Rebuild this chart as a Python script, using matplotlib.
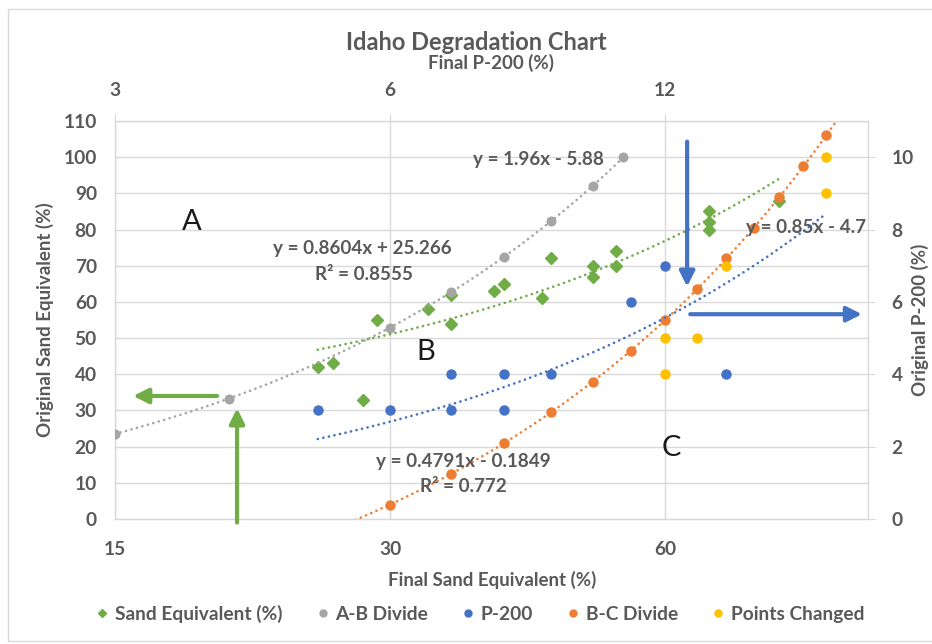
import matplotlib
matplotlib.use("Agg")
import matplotlib.pyplot as plt
import numpy as np
from matplotlib.lines import Line2D
from matplotlib.patches import Rectangle

plt.rcParams["font.family"] = ["Lato", "DejaVu Sans"]

# primary axes: final vs original sand equivalent (%)
se_final = [25, 26, 28, 29, 33, 35, 35, 39, 40, 44, 45, 50, 50, 53, 53, 67, 67, 67, 80]
se_orig = [42, 43, 33, 55, 58, 62, 54, 63, 65, 61, 72, 70, 67, 74, 70, 85, 82, 80, 88]
ab_final = [15, 20, 30, 35, 40, 45, 50, 54]
ab_orig = [23.5, 33.3, 52.9, 62.7, 72.5, 82.3, 92.1, 100]
# secondary axes: final vs original P-200 (%)
p200_final = [5, 6, 7, 7, 8, 8, 9, 11, 12, 14]
p200_orig = [3, 3, 3, 4, 4, 3, 4, 6, 7, 4]
bc_final = [6, 7, 8, 9, 10, 11, 12, 13, 14, 15, 16, 17, 18]
bc_orig = [0.4, 1.25, 2.1, 2.95, 3.8, 4.65, 5.5, 6.35, 7.2, 8.05, 8.9, 9.75, 10.6]
changed_final = [12, 12, 13, 14, 18, 18]
changed_orig = [5, 4, 5, 7, 10, 9]

# linear trendlines (slope, intercept, r2) and the x span each one covers
ab_fit = (1.96, -5.88, None)
se_fit = (0.8604, 25.266, 0.8555)
p200_fit = (0.4791, -0.1849, 0.772)
bc_fit = (0.85, -4.7, None)
ab_span = (15, 54)
se_span = (25, 80)
p200_span = (5, 18)
bc_span = (5.5, 18.8)

se_ticks = [15, 30, 60]
p200_ticks = [3, 6, 12]

GREEN, GRAY, BLUE, ORANGE, YELLOW = "#70AD47", "#A5A5A5", "#4472C4", "#ED7D31", "#FFC000"
TXT, GRID = "#595959", "#D9D9D9"
W, H = 932, 644


def px(x, y):
    return x / W, 1 - y / H


def trend(ax, fit, span, color):
    x = np.geomspace(span[0], span[1], 200)
    ax.plot(x, fit[0] * x + fit[1], color=color, lw=1.9, ls=(0, (0.05, 2.1)), dash_capstyle="round", zorder=4)


def eq(fit):
    sign = "+" if fit[1] >= 0 else "-"
    return f"y = {fit[0]:g}x {sign} {abs(fit[1]):g}"


fig = plt.figure(figsize=(W / 100, H / 100), dpi=100)
rect = [115 / W, 1 - 519 / H, (868 - 115) / W, (519 - 121) / H]
ax = fig.add_axes(rect)
ax2 = fig.add_axes(rect, frameon=False)
ax2.patch.set_visible(False)

ax.set_xscale("log", base=2); ax.set_xlim(15, 100); ax.set_ylim(0, 110)
ax2.set_xscale("log", base=2); ax2.set_xlim(3, 20); ax2.set_ylim(0, 11)

ax.set_xticks(se_ticks, [str(t) for t in se_ticks]); ax.xaxis.set_minor_locator(plt.NullLocator())
ax.set_yticks(range(0, 111, 10))
ax2.set_xticks(p200_ticks, [str(t) for t in p200_ticks]); ax2.xaxis.set_minor_locator(plt.NullLocator())
ax2.set_yticks(range(0, 11, 2))
ax2.xaxis.tick_top(); ax2.yaxis.tick_right()

ax.grid(True, color=GRID, lw=1); ax.set_axisbelow(True)
for s in ax.spines.values(): s.set_color(GRID); s.set_linewidth(1)
ax.tick_params(length=0, colors=TXT, labelsize=13.8)
ax.tick_params(axis="y", pad=13); ax.tick_params(axis="x", pad=16)
ax2.tick_params(length=5, color=GRID, labelcolor=TXT, labelsize=13.8)
ax2.tick_params(axis="x", pad=11); ax2.tick_params(axis="y", pad=12)
for t in ax.get_xticklabels() + ax.get_yticklabels() + ax2.get_xticklabels() + ax2.get_yticklabels():
    t.set_fontweight("bold")

# primary series
ax.plot(se_final, se_orig, ls="", marker="D", ms=6.3, color=GREEN, zorder=3)
ax.plot(ab_final, ab_orig, ls="", marker="o", ms=6.2, color=GRAY, zorder=3)
trend(ax, ab_fit, ab_span, GRAY)
trend(ax, se_fit, se_span, GREEN)
# secondary series
ax2.plot(p200_final, p200_orig, ls="", marker="o", ms=6.5, color=BLUE, zorder=3)
ax2.plot(bc_final, bc_orig, ls="", marker="o", ms=6.5, color=ORANGE, zorder=3)
ax2.plot(changed_final, changed_orig, ls="", marker="o", ms=6.5, color=YELLOW, zorder=3)
trend(ax2, p200_fit, p200_span, BLUE)
trend(ax2, bc_fit, bc_span, ORANGE)

# equation labels
kw = dict(color=TXT, fontsize=13.6, fontweight="bold", ha="center", va="center")
fig.text(*px(538, 159), eq(ab_fit), **kw)
fig.text(*px(362, 248), eq(se_fit), **kw)
fig.text(*px(364, 274), f"R² = {se_fit[2]:g}", **kw)
fig.text(*px(806, 227), eq(bc_fit), **kw)
fig.text(*px(463, 461), eq(p200_fit), **kw)
fig.text(*px(463, 487), f"R² = {p200_fit[2]:g}", **kw)

# zone letters
for letter, x, y in [("A", 192, 222), ("B", 426, 352), ("C", 671, 448)]:
    fig.text(*px(x, y), letter, fontsize=21, color="#1A1A1A", ha="center", va="center")

arrows = [((19.4, 34), (15.7, 34), GREEN), ((20.4, -1), (20.4, 30.6), GREEN),
          ((63.4, 104.3), (63.4, 64.2), BLUE), ((63.9, 56.6), (98.5, 56.6), BLUE)]
for start, end, color in arrows:
    ax2.annotate("", xy=end, xycoords=ax.transData, xytext=start, textcoords=ax.transData,
                 annotation_clip=False,
                 arrowprops=dict(arrowstyle="-|>,head_length=0.9,head_width=0.45", mutation_scale=10,
                                 color=color, lw=3, shrinkA=0, shrinkB=0), zorder=6)

# titles and axis labels
fig.text(*px(476, 42), "Idaho Degradation Chart", fontsize=17, fontweight="bold", color=TXT, ha="center", va="center")
fig.text(*px(491, 63), "Final P-200 (%)", fontsize=13.5, fontweight="bold", color=TXT, ha="center", va="center")
fig.text(*px(492, 580), "Final Sand Equivalent (%)", fontsize=13.5, fontweight="bold", color=TXT, ha="center", va="center")
fig.text(*px(45, 320), "Original Sand Equivalent (%)", fontsize=13.5, fontweight="bold", color=TXT,
         ha="center", va="center", rotation=90)
fig.text(*px(920, 320), "Original P-200 (%)", fontsize=13.5, fontweight="bold", color=TXT,
         ha="center", va="center", rotation=90)

handles = [Line2D([], [], ls="", marker="D", ms=4.5, color=GREEN)] + \
          [Line2D([], [], ls="", marker="o", ms=5, color=c) for c in (GRAY, BLUE, ORANGE, YELLOW)]
labels = ["Sand Equivalent (%)", "A-B Divide", "P-200", "B-C Divide", "Points Changed"]
leg = fig.legend(handles, labels, loc="center", bbox_to_anchor=px(480, 614), ncol=5, frameon=False,
                 handlelength=0.7, handletextpad=0.3, columnspacing=1.75,
                 prop=dict(size=13.8, weight="bold"))
for t in leg.get_texts():
    t.set_color(TXT)

fig.patches.append(Rectangle(px(8, 641), 1, (641 - 9) / H, transform=fig.transFigure,
                             fill=False, ec=GRID, lw=1))

fig.savefig("out.png", dpi=100)
